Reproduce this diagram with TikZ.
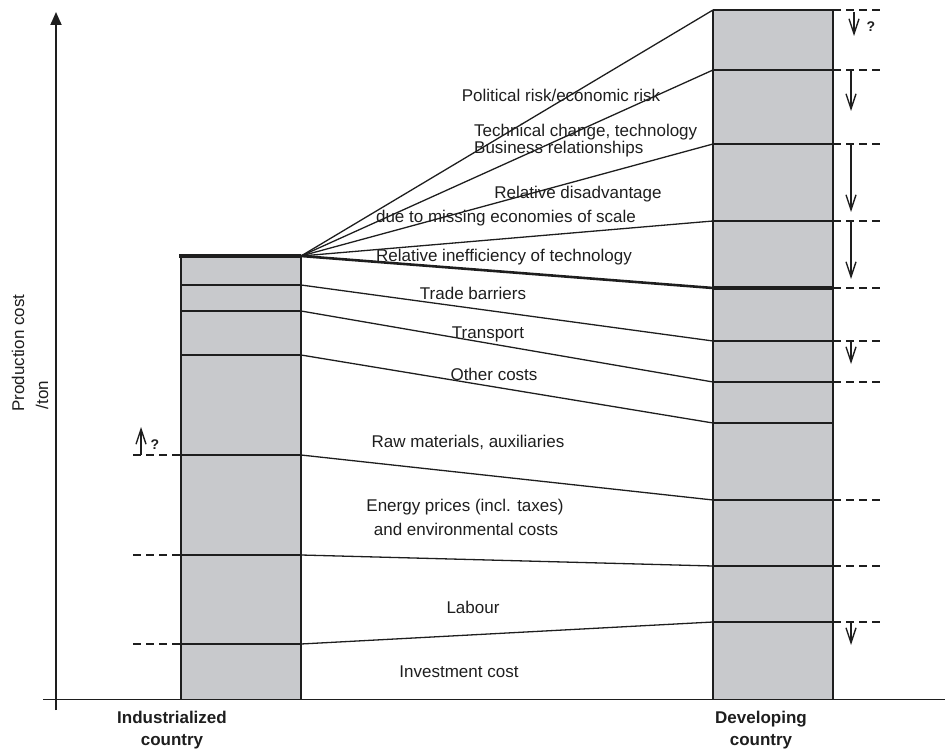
\documentclass[tikz,border=0pt]{standalone}
\usepackage{fontspec}
\setmainfont{Liberation Sans}
\usetikzlibrary{arrows.meta}
\definecolor{barcol}{RGB}{200,201,204}
\definecolor{ink}{RGB}{30,30,30}
\begin{document}
\begin{tikzpicture}[x=1pt,y=-1pt,
  lbl/.style={font=\fontsize{17}{20}\selectfont, inner sep=0pt, text=ink},
  bold lbl/.style={font=\fontsize{17}{22}\selectfont\bfseries, inner sep=0pt, text=ink, align=center},
  qmark/.style={font=\fontsize{14}{16}\selectfont\bfseries, inner sep=0pt, text=ink},
  barbox/.style={fill=barcol},
  barline/.style={draw=ink, line width=1.4pt},
  level/.style={draw=ink, line width=1.3pt},
  thickline/.style={draw=ink, line width=3.5pt},
  link/.style={draw=ink, line width=1.3pt},
  thicklink/.style={draw=ink, line width=2.6pt},
  dsh/.style={draw=ink, line width=1.4pt, dash pattern=on 8pt off 5pt},
  chg/.style={draw=ink, line width=1.4pt, -{Straight Barb[length=15pt,width=10pt]}},
  axis/.style={draw=ink, line width=1.8pt}]
\useasboundingbox (0,0) rectangle (945,751);

% left bar levels (right side points)
\coordinate (L0) at (301,256);
\coordinate (L1) at (301,285);
\coordinate (L2) at (301,311);
\coordinate (L3) at (301,355);
\coordinate (L4) at (301,455);
\coordinate (L5) at (301,555);
\coordinate (L6) at (301,644);
% right bar levels (left side points)
\coordinate (R0) at (713,10);
\coordinate (R1) at (713,70);
\coordinate (R2) at (713,144);
\coordinate (R3) at (713,221);
\coordinate (R4) at (713,288);
\coordinate (R5) at (713,341);
\coordinate (R6) at (713,382);
\coordinate (R7) at (713,423);
\coordinate (R8) at (713,500);
\coordinate (R9) at (713,566);
\coordinate (R10) at (713,622);

% bars
\fill[barbox] (181,256) rectangle (301,700);
\fill[barbox] (713,10) rectangle (833,700);
\foreach \y in {285,311,355,455,555,644} \draw[level] (181,\y) -- (301,\y);
\foreach \y in {10,70,144,221,341,382,423,500,566,622} \draw[level] (713,\y) -- (833,\y);
\draw[barline] (181,256) -- (181,700);
\draw[barline] (301,256) -- (301,700);
\draw[barline] (713,10) -- (713,700);
\draw[barline] (833,10) -- (833,700);
\draw[thickline] (179,256) -- (301,256);
\draw[thickline] (713,288) -- (833,288);

% axes
\draw[axis, -{Triangle[length=13pt,width=11pt]}] (56,710) -- (56,12);
\draw[axis] (43,699.5) -- (945,699.5);

% connectors
\draw[link] (L0) -- (R0);
\draw[link] (L0) -- (R1);
\draw[link] (L0) -- (R2);
\draw[link] (L0) -- (R3);
\draw[thicklink] (L0) -- (R4);
\draw[link] (L1) -- (R5);
\draw[link] (L2) -- (R6);
\draw[link] (L3) -- (R7);
\draw[link] (L4) -- (R8);
\draw[link] (L5) -- (R9);
\draw[link] (L6) -- (R10);

% dashed reference lines
\foreach \y in {10,70,144,221,288,341,382,500,566,622} \draw[dsh] (833,\y) -- (882,\y);
\foreach \y in {455,555,644} \draw[dsh] (133,\y) -- (181,\y);

% change arrows
\draw[chg] (854,12) -- (854,36);
\draw[chg] (851,70) -- (851,111);
\draw[chg] (851,144) -- (851,212);
\draw[chg] (851,221) -- (851,279);
\draw[chg] (851,341) -- (851,364);
\draw[chg] (851,622) -- (851,645);
\draw[chg] (141,455) -- (141,427);
\node[qmark] (q1) at (871,27) {?};
\node[qmark] (q2) at (155,445) {?};

% labels
\node[lbl] (t1) at (561,95) {Political risk/economic risk};
\node[lbl, anchor=west] (t2) at (474,132) {Technical change, technology};
\node[lbl, anchor=west] (t3) at (474,149) {Business relationships};
\node[lbl] (t4) at (578,194) {Relative disadvantage};
\node[lbl] (t5) at (506,218) {due to missing economies of scale};
\node[lbl] (t6) at (504,257) {Relative inefficiency of technology};
\node[lbl] (t7) at (473,293) {Trade barriers};
\node[lbl] (t8) at (488,334) {Transport};
\node[lbl] (t9) at (494,374) {Other costs};
\node[lbl] (t10) at (468,442) {Raw materials, auxiliaries};
\node[lbl] (t11) at (465,507) {Energy prices (incl. taxes)};
\node[lbl] (t12) at (466,529) {and environmental costs};
\node[lbl] (t13) at (473,607) {Labour};
\node[lbl] (t14) at (459,672) {Investment cost};

\node[lbl, rotate=90] (yl1) at (18,353) {Production cost};
\node[lbl, rotate=90] (yl2) at (42,395) {/ton};

\node[bold lbl] (xl1) at (172,730) {Industrialized\\country};
\node[bold lbl] (xl2) at (761,730) {Developing\\country};
\end{tikzpicture}
\end{document}
